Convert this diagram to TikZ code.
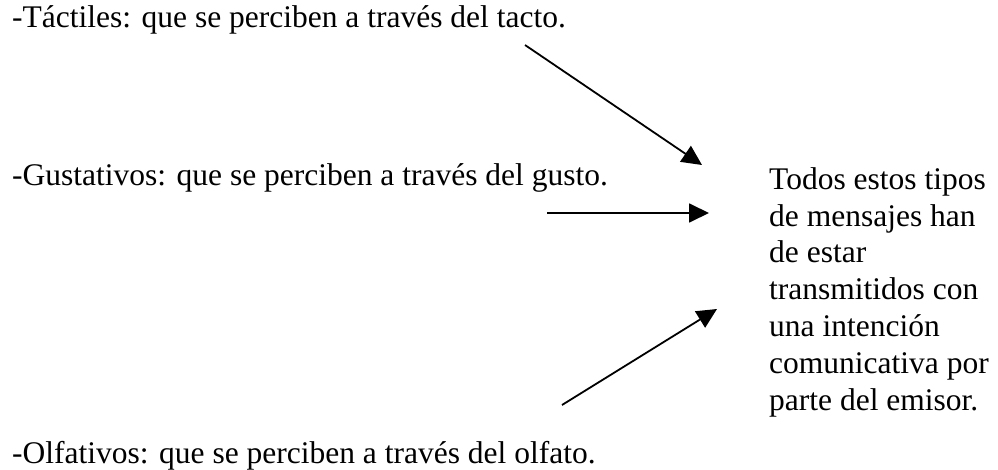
\documentclass[tikz,border=0pt]{standalone}
\usepackage{fontspec}
\setmainfont{Liberation Serif}
\usetikzlibrary{arrows.meta}

\begin{document}
\begin{tikzpicture}[x=1pt,y=-1pt,
  txt/.style={anchor=base west,inner sep=0pt,font=\fontsize{31.5}{36.8}\selectfont},
  flecha/.style={-{Triangle[length=20pt,width=19pt]},line width=1.8pt}]
\useasboundingbox (0,0) rectangle (998,470);
\node [txt] (tactiles) at (12,28) {-Táctiles: que se perciben a través del tacto.};
\node [txt] (gustativos) at (12,186) {-Gustativos: que se perciben a través del gusto.};
\node [txt] (olfativos) at (12,463) {-Olfativos: que se perciben a través del olfato.};
% base of the block is its last line
\node [txt,align=left] (mensajes) at (769,410) {Todos estos tipos\\de mensajes han\\de estar\\transmitidos con\\una intención\\comunicativa por\\parte del emisor.};
\coordinate (tacto ini) at (525,45);
\coordinate (tacto fin) at (702,165);
\coordinate (gusto ini) at (547,213);
\coordinate (gusto fin) at (709,213);
\coordinate (olfato ini) at (562,405);
\coordinate (olfato fin) at (717,309);
\draw [flecha] (tacto ini) -- (tacto fin);
\draw [flecha] (gusto ini) -- (gusto fin);
\draw [flecha] (olfato ini) -- (olfato fin);
\end{tikzpicture}
\end{document}
